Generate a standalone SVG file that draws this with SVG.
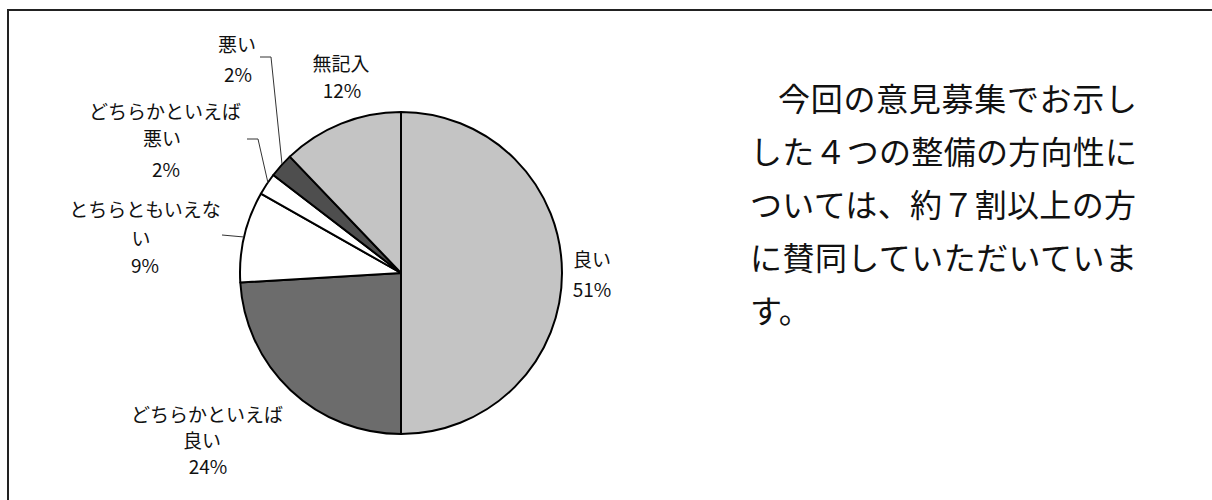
<svg xmlns="http://www.w3.org/2000/svg" width="1212" height="500" viewBox="0 0 1212 500">
<style>
.lbl{font-family:"Noto Sans CJK JP","Noto Sans CJK SC",sans-serif;font-size:19px;fill:#111;text-anchor:middle}
.body{font-family:"Noto Sans CJK JP","Noto Sans CJK SC",sans-serif;font-size:32px;fill:#111}
.slice{stroke:#000;stroke-width:2;stroke-linejoin:round}
.lead{fill:none;stroke:#333;stroke-width:1}
</style>
<rect width="1212" height="500" fill="#fff"/>
<path d="M8,500 V10 H1212" fill="none" stroke="#222" stroke-width="2"/>
<g id="pie">
<g id="s-good"><path class="slice" fill="#c4c4c4" d="M401,273 L401,112 A161,161 0 0 1 401,434 Z"/></g>
<g id="s-rathergood"><path class="slice" fill="#6c6c6c" d="M401,273 L401,434 A161,161 0 0 1 240.3,282.5 Z"/></g>
<g id="s-neutral"><path class="slice" fill="#fff" d="M401,273 L240.3,282.5 A161,161 0 0 1 260.9,193.7 Z"/></g>
<g id="s-ratherbad"><path class="slice" fill="#fff" d="M401,273 L260.9,193.7 A161,161 0 0 1 273.3,175 Z"/></g>
<g id="s-bad"><path class="slice" fill="#4e4e4e" d="M401,273 L273.3,175 A161,161 0 0 1 289.8,156.6 Z"/></g>
<g id="s-blank"><path class="slice" fill="#c4c4c4" d="M401,273 L289.8,156.6 A161,161 0 0 1 401,112 Z"/></g>
</g>
<g id="connectors">
<path class="lead" d="M260,57 H271 L282,164"/>
<path class="lead" d="M247,139 H258 L268,183"/>
<path class="lead" d="M222,235 L244,237"/>
</g>
<g id="label-bad"><text class="lbl" x="237" y="52">悪い</text><text class="lbl" x="238" y="82">2%</text></g>
<g id="label-blank"><text class="lbl" x="341" y="71">無記入</text><text class="lbl" x="342" y="98">12%</text></g>
<g id="label-ratherbad"><text class="lbl" x="165" y="119">どちらかといえば</text><text class="lbl" x="162" y="146">悪い</text><text class="lbl" x="166" y="177">2%</text></g>
<g id="label-neutral"><text class="lbl" x="145" y="217">とちらともいえな</text><text class="lbl" x="141" y="246">い</text><text class="lbl" x="145" y="273">9%</text></g>
<g id="label-good"><text class="lbl" x="592" y="267">良い</text><text class="lbl" x="592" y="297">51%</text></g>
<g id="label-rathergood"><text class="lbl" x="207" y="422">どちらかといえば</text><text class="lbl" x="202" y="448">良い</text><text class="lbl" x="208" y="474">24%</text></g>
<g id="note">
<text class="body" x="778" y="111" textLength="359" lengthAdjust="spacing">今回の意見募集でお示し</text>
<text class="body" x="750" y="164" textLength="387" lengthAdjust="spacing">した４つの整備の方向性に</text>
<text class="body" x="750" y="217" textLength="386" lengthAdjust="spacing">ついては、約７割以上の方</text>
<text class="body" x="750" y="270" textLength="387" lengthAdjust="spacing">に賛同していただいていま</text>
<text class="body" x="750" y="323">す。</text>
</g>
</svg>
